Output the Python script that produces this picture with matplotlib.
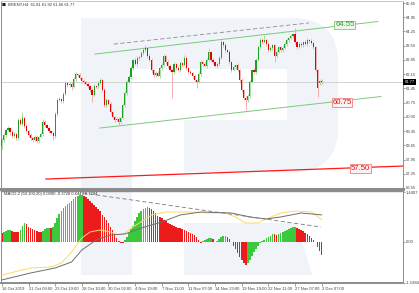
import numpy as np
import matplotlib
matplotlib.use('Agg')
import matplotlib.pyplot as plt
from matplotlib.path import Path
from matplotlib.patches import PathPatch, Polygon, Rectangle

# BRENT H4 candles (price), opens follow the previous close
first_open = 58.60
closes = [
    58.91, 59.16, 59.40, 59.50, 59.30, 59.11, 59.21, 59.01, 59.89, 59.70,
    59.99, 59.60, 59.35, 59.16, 59.01, 58.91, 59.06, 58.86, 59.06, 59.21,
    59.80, 59.65, 59.50, 59.35, 59.25, 59.11, 60.19, 60.88, 60.93, 60.83,
    61.17, 61.71, 61.62, 61.67, 61.52, 61.91, 62.16, 62.11, 61.96, 61.81,
    61.76, 61.67, 61.57, 61.37, 61.12, 61.57, 61.55, 61.71, 61.86, 61.37,
    60.63, 60.88, 60.68, 60.29, 60.04, 59.89, 59.94, 59.80, 59.99, 60.63,
    61.22, 61.76, 62.01, 62.45, 62.85, 62.65, 62.94, 62.99, 63.19, 63.34,
    63.44, 63.04, 62.85, 62.35, 62.11, 62.21, 62.06, 62.45, 62.60, 63.04,
    62.75, 62.55, 62.35, 62.26, 62.65, 62.45, 62.35, 62.70, 62.60, 62.94,
    62.45, 62.26, 62.21, 62.06, 61.86, 61.76, 62.16, 62.75, 62.65, 62.55,
    62.85, 63.24, 62.85, 62.75, 62.55, 62.65, 62.94, 63.73, 63.58, 63.34,
    63.24, 62.75, 62.35, 62.50, 62.60, 62.35, 61.86, 61.37, 60.98, 60.88,
    61.07, 61.76, 62.35, 62.26, 62.85, 63.48, 63.83, 63.73, 63.83, 63.63,
    63.34, 63.44, 63.58, 63.04, 63.24, 63.48, 63.34, 63.44, 63.63, 63.83,
    63.93, 64.03, 64.12, 63.73, 63.48, 63.63, 63.58, 63.73, 63.63, 63.83,
    63.78, 63.68, 63.48, 62.35, 61.47, 61.81, 61.77,
]
upper_wick = [
    .08, .10, .06, .12, .05, .08, .10, .06, .10, .08,
    .30, .06, .08, .05, .10, .06, .08, .10, .06, .08,
    .12, .08, .06, .10, .05, .08, .10, .12, .08, .06,
    .10, .12, .06, .08, .10, .08, .12, .06, .10, .05,
    .08, .06, .10, .05, .08, .12, .06, .10, .08, .06,
    .08, .10, .06, .08, .05, .06, .10, .08, .06, .10,
    .12, .10, .08, .12, .06, .10, .08, .06, .10, .08,
    .14, .06, .10, .08, .05, .10, .08, .06, .10, .12,
    .06, .08, .10, .05, .12, .06, .08, .10, .06, .15,
    .08, .06, .10, .05, .08, .06, .10, .12, .06, .08,
    .10, .20, .06, .08, .05, .10, .08, .10, .06, .08,
    .06, .10, .05, .08, .06, .10, .05, .08, .06, .10,
    .08, .10, .06, .08, .12, .10, .08, .12, .25, .06,
    .08, .10, .06, .05, .10, .08, .06, .10, .08, .12,
    .06, .10, .08, .30, .06, .08, .10, .06, .08, .10,
    .06, .08, .05, .06, .05, .08, .11,
]
lower_wick = [
    .15, .08, .10, .06, .12, .08, .06, .10, .08, .06,
    .10, .08, .06, .12, .08, .10, .06, .08, .10, .06,
    .08, .10, .06, .08, .05, .20, .08, .10, .06, .08,
    .10, .06, .12, .08, .15, .06, .08, .10, .06, .08,
    .10, .06, .08, .10, .35, .06, .08, .10, .06, .10,
    .12, .08, .06, .10, .08, .10, .06, .15, .08, .06,
    .10, .08, .06, .10, .08, .06, .10, .08, .06, .10,
    .08, .10, .06, .12, .08, .10, .06, .08, .10, .06,
    .08, .10, .06, 1.28, .08, .10, .06, .08, .10, .06,
    .08, .10, .06, .08, .10, .30, .06, .08, .10, .06,
    .08, .06, .10, .08, .06, .10, .08, .06, .10, .08,
    .06, .10, .08, .06, .10, .08, .12, .10, .08, .49,
    .10, .08, .06, .10, .08, .06, .10, .08, .06, .10,
    .08, .06, .10, .30, .08, .06, .10, .08, .06, .10,
    .08, .06, .10, .08, .10, .06, .08, .10, .06, .08,
    .10, .06, .08, .10, .44, .06, .11,
]
gap_bar = 155
gap_open = 61.70

# MACD-2 histogram, one value per bar
macd_hist = [
    0.253, 0.282, 0.311, 0.340, 0.340, 0.311, 0.282, 0.280, 0.278, 0.340,
    0.457, 0.544, 0.515, 0.440, 0.399, 0.355, 0.326, 0.297, 0.282, 0.280,
    0.311, 0.355, 0.384, 0.399, 0.384, 0.428, 0.544, 0.690, 0.806, 0.893,
    0.981, 1.053, 1.097, 1.126, 1.170, 1.228, 1.286, 1.330, 1.350, 1.359,
    1.330, 1.301, 1.243, 1.184, 1.126, 1.068, 1.010, 0.952, 0.879, 0.791,
    0.719, 0.631, 0.530, 0.428, 0.326, 0.210, 0.093, 0.006, -0.038, -0.052,
    0.049, 0.151, 0.253, 0.370, 0.471, 0.602, 0.719, 0.821, 0.879, 0.937,
    0.981, 1.010, 0.981, 0.937, 0.879, 0.821, 0.762, 0.719, 0.690, 0.631,
    0.602, 0.544, 0.515, 0.486, 0.457, 0.428, 0.399, 0.390, 0.370, 0.340,
    0.311, 0.282, 0.253, 0.224, 0.195, 0.137, 0.049, -0.038, 0.020, 0.049,
    0.079, 0.093, 0.108, 0.064, -0.023, 0.020, 0.079, 0.137, 0.166, 0.180,
    0.151, 0.064, -0.023, -0.111, -0.227, -0.343, -0.460, -0.547, -0.620, -0.678,
    -0.620, -0.533, -0.416, -0.300, -0.212, -0.125, -0.038, 0.020, 0.049, 0.108,
    0.137, 0.180, 0.224, 0.210, 0.195, 0.224, 0.253, 0.282, 0.311, 0.340,
    0.370, 0.384, 0.413, 0.428, 0.399, 0.355, 0.326, 0.297, 0.253, 0.210,
    0.166, 0.108, 0.049, -0.023, -0.154, -0.271, -0.3728,
]
yellow_bars = [0, 14, 24, 29, 34, 39, 43, 48, 53, 57, 60, 64, 73, 80, 92,
               100, 109, 114, 119, 125, 129, 136, 143, 151, 156]
yellow_vals = [-0.969, -0.765, -0.736, -0.620, -0.300, 0.108, 0.282, 0.340,
               0.282, 0.195, 0.253, 0.428, 0.777, 0.864, 0.864, 0.835, 0.835,
               0.719, 0.544, 0.544, 0.661, 0.835, 0.893, 0.864, 0.6443]
gray_bars = [0, 14, 26, 34, 39, 46, 53, 60, 68, 78, 87, 97, 112, 121, 129,
             136, 146, 156]
gray_vals = [-1.114, -0.911, -0.765, -0.591, -0.242, 0.049, 0.195, 0.224,
             0.399, 0.573, 0.777, 0.864, 0.835, 0.719, 0.661, 0.719, 0.835,
             0.7794]

# trend lines (bar, price)
upper_chan_x, upper_chan_y = [45.4, 183.4], [63.14, 64.74]
lower_chan_x, lower_chan_y = [47.8, 184.9], [59.50, 61.05]
top_dash_x, top_dash_y = [54.6, 149.8], [63.63, 64.67]
support_x, support_y = [21.5, 195.6], [56.99, 57.63]
macd_dash_x, macd_dash_y = [39.5, 155.6], [1.417, 0.428]

price_ticks = [65.65, 64.95, 64.25, 63.55, 62.85, 62.15, 61.45, 60.75,
               60.05, 59.35, 58.65, 57.95, 57.25, 56.55]
last_price = 61.77
date_ticks = [0, 13, 26, 39, 52, 65, 78, 91, 104, 117, 130, 143, 156]
date_labels = ['16 Oct 2019', '21 Oct 03:00', '23 Oct 19:00', '28 Oct 10:00',
               '30 Oct 02:00', '4 Nov 19:00', '7 Nov 11:00', '11 Nov 07:00',
               '14 Nov 23:00', '19 Nov 19:00', '22 Nov 11:00', '27 Nov 07:00',
               '2 Dec 07:00']

W, H = 419, 293
WM = '#f0f3f8'
GREEN, RED = '#1f9f1f', '#e60000'
LBL = '#404040'
FS = 3.0

plt.rcParams['font.family'] = ['Liberation Sans', 'DejaVu Sans']


def fpx(x, y):
    return (x / W, 1 - y / H)


def draw_watermark(fig):
    stem = Rectangle(fpx(81, 275), 51 / W, 257 / H, transform=fig.transFigure,
                     fc=WM, ec='none', zorder=-1)
    pts = [(132, 18), (293, 18), (338, 18), (338, 63), (338, 127), (338, 172),
           (293, 172), (184, 172), (184, 120), (287, 120), (287, 69),
           (132, 69), (132, 18)]
    codes = [Path.MOVETO, Path.LINETO, Path.CURVE3, Path.CURVE3, Path.LINETO,
             Path.CURVE3, Path.CURVE3, Path.LINETO, Path.LINETO, Path.LINETO,
             Path.LINETO, Path.LINETO, Path.CLOSEPOLY]
    bowl = PathPatch(Path([fpx(*p) for p in pts], codes),
                     transform=fig.transFigure, fc=WM, ec='none', zorder=-1)
    leg = Polygon([fpx(184, 223), fpx(297, 223), fpx(312, 275), fpx(184, 275)],
                  closed=True, transform=fig.transFigure, fc=WM, ec='none',
                  zorder=-1)
    for p in (stem, bowl, leg):
        fig.patches.append(p)


def style_axes(ax):
    ax.set_facecolor('none')
    ax.set_xlim(-0.5, 195.6)
    for side in ('left', 'right', 'top', 'bottom'):
        ax.spines[side].set_color('#8c8c8c')
        ax.spines[side].set_linewidth(0.7)
    ax.yaxis.tick_right()
    ax.tick_params(axis='y', direction='out', length=1.5, width=0.5,
                   colors='#777777', labelcolor=LBL, labelsize=FS, pad=0.6)


def label_box(ax, x, y, text, fg, bg, edge):
    ax.text(x, y, text, ha='center', va='center', fontsize=5.6, color=fg,
            zorder=6, bbox=dict(boxstyle='square,pad=0.1', fc=bg, ec=edge,
                                lw=0.6))


def main():
    fig = plt.figure(figsize=(W / 100, H / 100), dpi=100)
    fig.patch.set_facecolor('white')
    draw_watermark(fig)

    ax = fig.add_axes([0.002, (H - 189) / H, 402 / W, 188 / H])
    ax2 = fig.add_axes([0.002, (H - 283) / H, 402 / W, 92 / H])
    style_axes(ax)
    style_axes(ax2)

    # price panel
    c = np.array(closes)
    n = len(c)
    idx = np.arange(n)
    o = np.concatenate([[first_open], c[:-1]])
    o[gap_bar] = gap_open
    hi = np.maximum(o, c) + np.array(upper_wick)
    lo = np.minimum(o, c) - np.array(lower_wick)
    up = c >= o
    ax.vlines(idx, lo, hi, colors=np.where(up, '#9ad89a', '#f4a4a4'),
              lw=0.6, zorder=3)
    body = np.where(np.abs(c - o) < 0.03, np.where(up, 0.03, -0.03), c - o)
    ax.bar(idx, body, bottom=o, width=0.55, color=np.where(up, GREEN, RED),
           lw=0, zorder=4)

    ax.set_ylim(56.50, 65.75)
    ax.set_yticks(price_ticks)
    ax.set_yticklabels([f'{t:.2f}' for t in price_ticks])
    ax.set_xticks([])
    ax.spines['bottom'].set_linewidth(2.2)
    ax.spines['top'].set_color('#c8c8c8')

    ax.axhline(last_price, color='#cccccc', lw=0.6, zorder=1)
    ax.plot(upper_chan_x, upper_chan_y, color='#7cc97c', lw=0.7, zorder=2)
    ax.plot(lower_chan_x, lower_chan_y, color='#7cc97c', lw=0.7, zorder=2)
    ax.plot(top_dash_x, top_dash_y, color='#8a8a8a', lw=0.6, dashes=(5, 3),
            zorder=2)
    ax.plot(support_x, support_y, color='#ff1a1a', lw=0.9, zorder=2)
    label_box(ax, 167.3, 64.57, '64.55', '#2f9e2f', '#eaf7ea', '#79c979')
    label_box(ax, 165.9, 60.75, '60.75', '#e01010', '#fff0f0', '#f08080')
    label_box(ax, 174.9, 57.51, '57.50', '#e01010', '#fff0f0', '#f08080')

    ax.text(1.004, last_price, f'{last_price:.2f}', transform=ax.get_yaxis_transform(),
            ha='left', va='center', fontsize=FS, color='white', clip_on=False,
            zorder=7, bbox=dict(boxstyle='square,pad=0.25', fc='black', ec='none'))

    # MACD panel
    h = np.array(macd_hist)
    rising = np.concatenate([[False], h[1:] >= h[:-1]])
    ax2.bar(idx, h, width=0.78, color=np.where(rising, '#3cc83c', '#ec1c1c'),
            lw=0, zorder=2)
    ax2.plot(yellow_bars, yellow_vals, color='#ffd966', lw=0.7, zorder=3)
    ax2.plot(gray_bars, gray_vals, color='#6e6e6e', lw=0.7, zorder=3)
    ax2.plot(macd_dash_x, macd_dash_y, color='#7a7a7a', lw=0.6, dashes=(5, 3),
             zorder=3)
    ax2.set_ylim(-1.202, 1.475)
    ax2.set_yticks([1.4407, 0.0, -1.1984])
    ax2.set_yticklabels(['1.4407', '0.00', '-1.1984'])
    ax2.spines['top'].set_linewidth(1.0)
    ax2.spines['bottom'].set_linewidth(1.4)
    ax2.set_xticks(date_ticks)
    ax2.set_xticklabels(date_labels, ha='left')
    ax2.tick_params(axis='x', direction='out', length=2, width=0.5,
                    colors='#777777', labelcolor=LBL, labelsize=FS, pad=1)
    ax2.text(0.008, 0.985, 'MACD-2 (50,100,20) 0.0000 -0.3728 0.6443 0.7794',
             transform=ax2.transAxes, ha='left', va='top', fontsize=FS,
             color='#333333')

    fig.text(2 / W, 1 - 5 / H, '\u25a0', fontsize=FS, va='center',
             color='#222222', family='DejaVu Sans')
    fig.text(8 / W, 1 - 5 / H, 'BRENT,H4  61.81 61.92 61.66 61.77', fontsize=FS,
             va='center', color='#333333')

    fig.savefig('out.png', dpi=100)
    plt.close(fig)


if __name__ == '__main__':
    main()
